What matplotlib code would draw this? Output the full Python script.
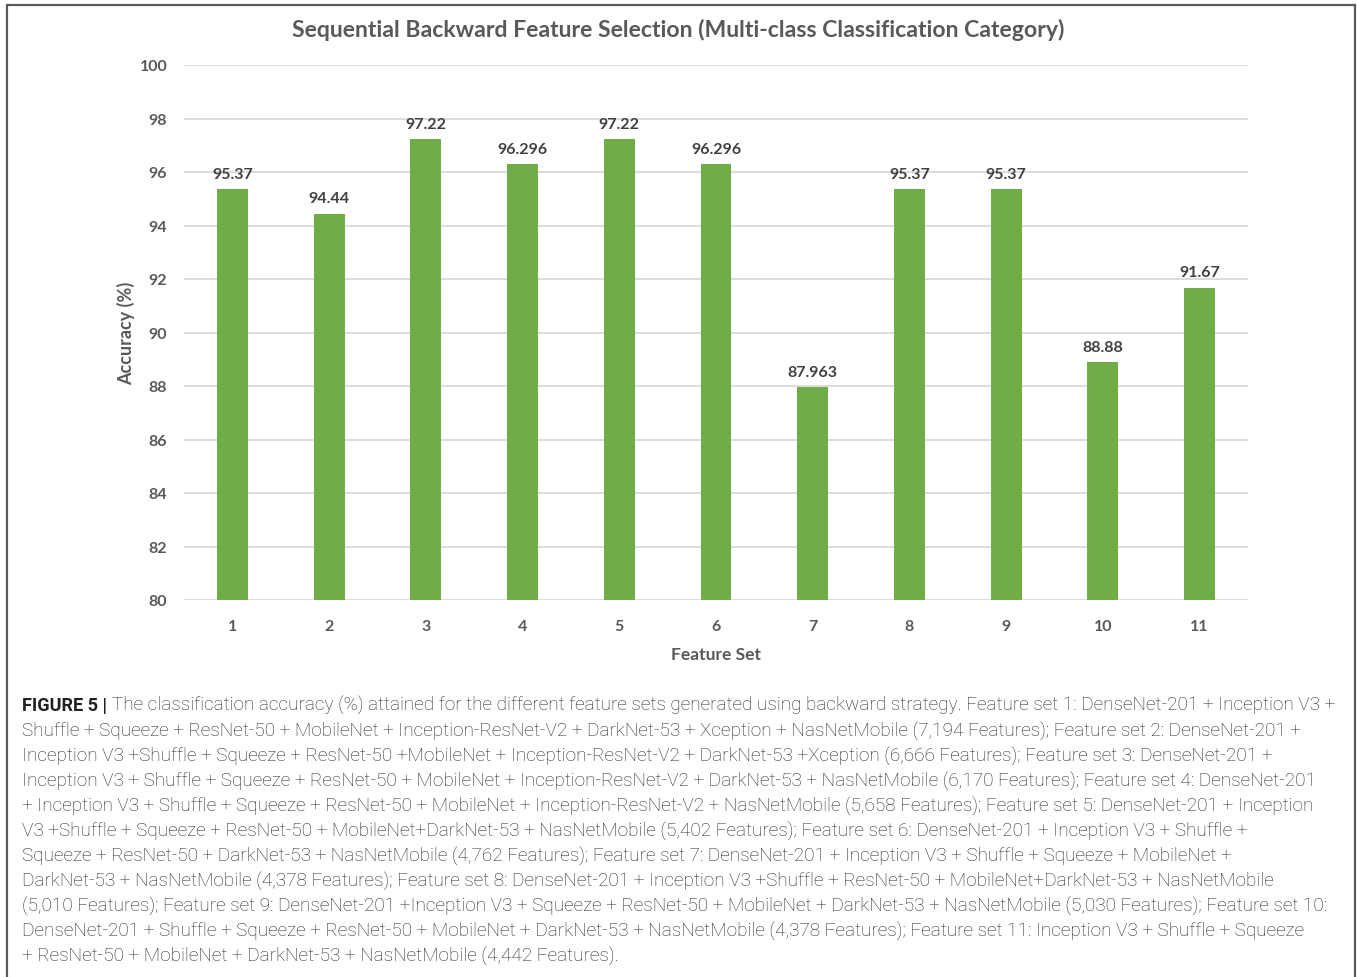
import matplotlib
matplotlib.use("Agg")
import matplotlib.pyplot as plt
from matplotlib.patches import Rectangle
import numpy as np

# Data
feature_sets = ["1", "2", "3", "4", "5", "6", "7", "8", "9", "10", "11"]
accuracy = [95.37, 94.44, 97.22, 96.296, 97.22, 96.296, 87.963, 95.37, 95.37, 88.88, 91.67]
accuracy_labels = ["95.37", "94.44", "97.22", "96.296", "97.22", "96.296", "87.963",
                   "95.37", "95.37", "88.88", "91.67"]
y_ticks = [80, 82, 84, 86, 88, 90, 92, 94, 96, 98, 100]

title = "Sequential Backward Feature Selection (Multi-class Classification Category)"
caption_head = "FIGURE 5 |"
caption_lines = [
    "The classification accuracy (%) attained for the different feature sets generated using backward strategy. Feature set 1: DenseNet-201 + Inception V3 +",
    "Shuffle + Squeeze + ResNet-50 + MobileNet + Inception-ResNet-V2 + DarkNet-53 + Xception + NasNetMobile (7,194 Features); Feature set 2: DenseNet-201 +",
    "Inception V3 +Shuffle + Squeeze + ResNet-50 +MobileNet + Inception-ResNet-V2 + DarkNet-53 +Xception (6,666 Features); Feature set 3: DenseNet-201 +",
    "Inception V3 + Shuffle + Squeeze + ResNet-50 + MobileNet + Inception-ResNet-V2 + DarkNet-53 + NasNetMobile (6,170 Features); Feature set 4: DenseNet-201",
    "+ Inception V3 + Shuffle + Squeeze + ResNet-50 + MobileNet + Inception-ResNet-V2 + NasNetMobile (5,658 Features); Feature set 5: DenseNet-201 + Inception",
    "V3 +Shuffle + Squeeze + ResNet-50 + MobileNet+DarkNet-53 + NasNetMobile (5,402 Features); Feature set 6: DenseNet-201 + Inception V3 + Shuffle +",
    "Squeeze + ResNet-50 + DarkNet-53 + NasNetMobile (4,762 Features); Feature set 7: DenseNet-201 + Inception V3 + Shuffle + Squeeze + MobileNet +",
    "DarkNet-53 + NasNetMobile (4,378 Features); Feature set 8: DenseNet-201 + Inception V3 +Shuffle + ResNet-50 + MobileNet+DarkNet-53 + NasNetMobile",
    "(5,010 Features); Feature set 9: DenseNet-201 +Inception V3 + Squeeze + ResNet-50 + MobileNet + DarkNet-53 + NasNetMobile (5,030 Features); Feature set 10:",
    "DenseNet-201 + Shuffle + Squeeze + ResNet-50 + MobileNet + DarkNet-53 + NasNetMobile (4,378 Features); Feature set 11: Inception V3 + Shuffle + Squeeze",
    "+ ResNet-50 + MobileNet + DarkNet-53 + NasNetMobile (4,442 Features).",
]
# right ends of the caption lines (px) used to size the caption font
caption_line_ends = [1333, 1318, 1316, 1338, 1338, 1300, 1318, 1293, 1340, 1332, 630]

W, H, DPI = 1357, 978, 100
fig = plt.figure(figsize=(W / DPI, H / DPI), dpi=DPI)
fig.patch.set_facecolor("white")

def fx(px):
    return px / W

def fy(py):
    return 1 - py / H

chart_font = ["Lato", "DejaVu Sans"]
label_grey = "#595959"

ax = fig.add_axes([fx(184), fy(601), fx(1248) - fx(184), fy(66) - fy(601)])
x = list(range(len(feature_sets)))
bars = ax.bar(x, [a - 80 for a in accuracy], bottom=80, width=0.32,
              color="#70AD47", zorder=3)
ax.set_xlim(-0.5, len(feature_sets) - 0.5)
ax.set_ylim(80, 100)
ax.set_yticks(y_ticks)
ax.set_xticks(x)
ax.set_xticklabels(feature_sets)
for s in ax.spines.values():
    s.set_visible(False)
ax.grid(axis="y", color="#d9d9d9", linewidth=1.3, zorder=0)
ax.tick_params(length=0, labelsize=11.5, labelcolor=label_grey)
ax.tick_params(axis="y", pad=12)
ax.tick_params(axis="x", pad=14)
for lab in ax.get_xticklabels() + ax.get_yticklabels():
    lab.set_fontfamily(chart_font)
    lab.set_fontweight("bold")

for xi, val, txt in zip(x, accuracy, accuracy_labels):
    ax.annotate(txt, xy=(xi, val), xytext=(0, 6), textcoords="offset points",
                ha="center", va="bottom", fontsize=11.5, fontweight="bold",
                color="#404040", family=chart_font)

ax.set_xlabel("Feature Set", fontsize=12.5, fontweight="bold", color=label_grey,
              family=chart_font, labelpad=9)
ax.set_ylabel("Accuracy (%)", fontsize=13, fontweight="bold", color=label_grey,
              family=chart_font, labelpad=3)

title_txt = fig.text(fx(678), fy(30), title, ha="center", va="center",
                     fontsize=15.5, fontweight="bold", color=label_grey,
                     family=chart_font)

# Caption block
cap_font = ["Roboto", "DejaVu Sans"]
cap_size = 13.0
left_px = 22
head_width_px = 85
gap_px = 5
line_y = [706 + 25.1 * i for i in range(len(caption_lines))]
head = fig.text(fx(left_px), fy(line_y[0]), caption_head, ha="left", va="center",
                fontsize=cap_size, fontweight="bold", color="#231f20", family=cap_font)
cap_texts = []
for i, line in enumerate(caption_lines):
    t = fig.text(fx(left_px), fy(line_y[i]), line, ha="left", va="center",
                 fontsize=cap_size, fontweight="light", color="#262626", family=cap_font)
    cap_texts.append(t)

# Size the caption font so the lines run to the same right edges
fig.canvas.draw()
r = fig.canvas.get_renderer()
head.set_fontsize(cap_size * head_width_px / head.get_window_extent(r).width)
ratios = []
for i, t in enumerate(cap_texts):
    start = left_px + (head_width_px + gap_px if i == 0 else 0)
    ratios.append((caption_line_ends[i] - start) / t.get_window_extent(r).width)
scale = min(ratios)
for t in cap_texts:
    t.set_fontsize(cap_size * scale)
tw = title_txt.get_window_extent(r).width
title_txt.set_fontsize(15.5 * 770 / tw)
cap_texts[0].set_x(fx(left_px + head_width_px + gap_px))

# Outer frame
fig.patches.append(Rectangle((fx(7), -0.02), fx(1355) - fx(7), fy(6) + 0.02,
                             transform=fig.transFigure, fill=False,
                             edgecolor="#5a5a5a", linewidth=1.6))

fig.savefig("out.png", dpi=DPI)
